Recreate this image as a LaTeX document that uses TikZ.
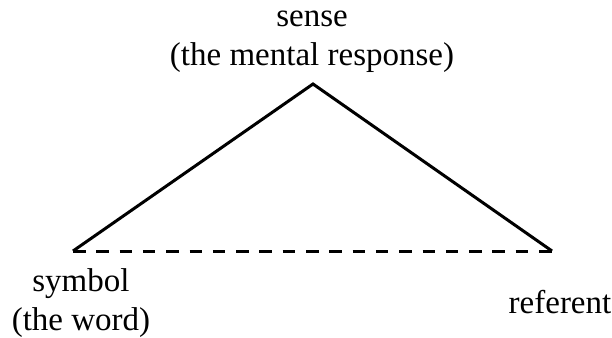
\documentclass[tikz,border=0pt]{standalone}
\usepackage{fontspec}
\setmainfont{Liberation Serif}
\usepackage{tikz}
\usetikzlibrary{positioning}

\begin{document}
\begin{tikzpicture}[x=1pt, y=1pt, font=\fontsize{33}{39}\selectfont, lbl/.style={inner sep=0pt, align=center, anchor=base}, side/.style={line width=3pt, line join=miter}, gap/.style={line width=3pt, dash pattern=on 12.5pt off 10.8pt}]
\useasboundingbox (0,0) rectangle (612,-337);
\coordinate (sense) at (313,-84);
\coordinate (symbol) at (73,-251);
\coordinate (referent) at (552,-251);
\node[lbl] (senselbl) at (312,-65) {sense\\(the mental response)};
\node[lbl] (symbollbl) at (81,-330) {symbol\\(the word)};
\node[lbl] (referentlbl) at (560,-313) {referent};
\draw[side] (symbol) -- (sense) -- (referent);
\draw[gap] (symbol) -- (referent);
\end{tikzpicture}
\end{document}
